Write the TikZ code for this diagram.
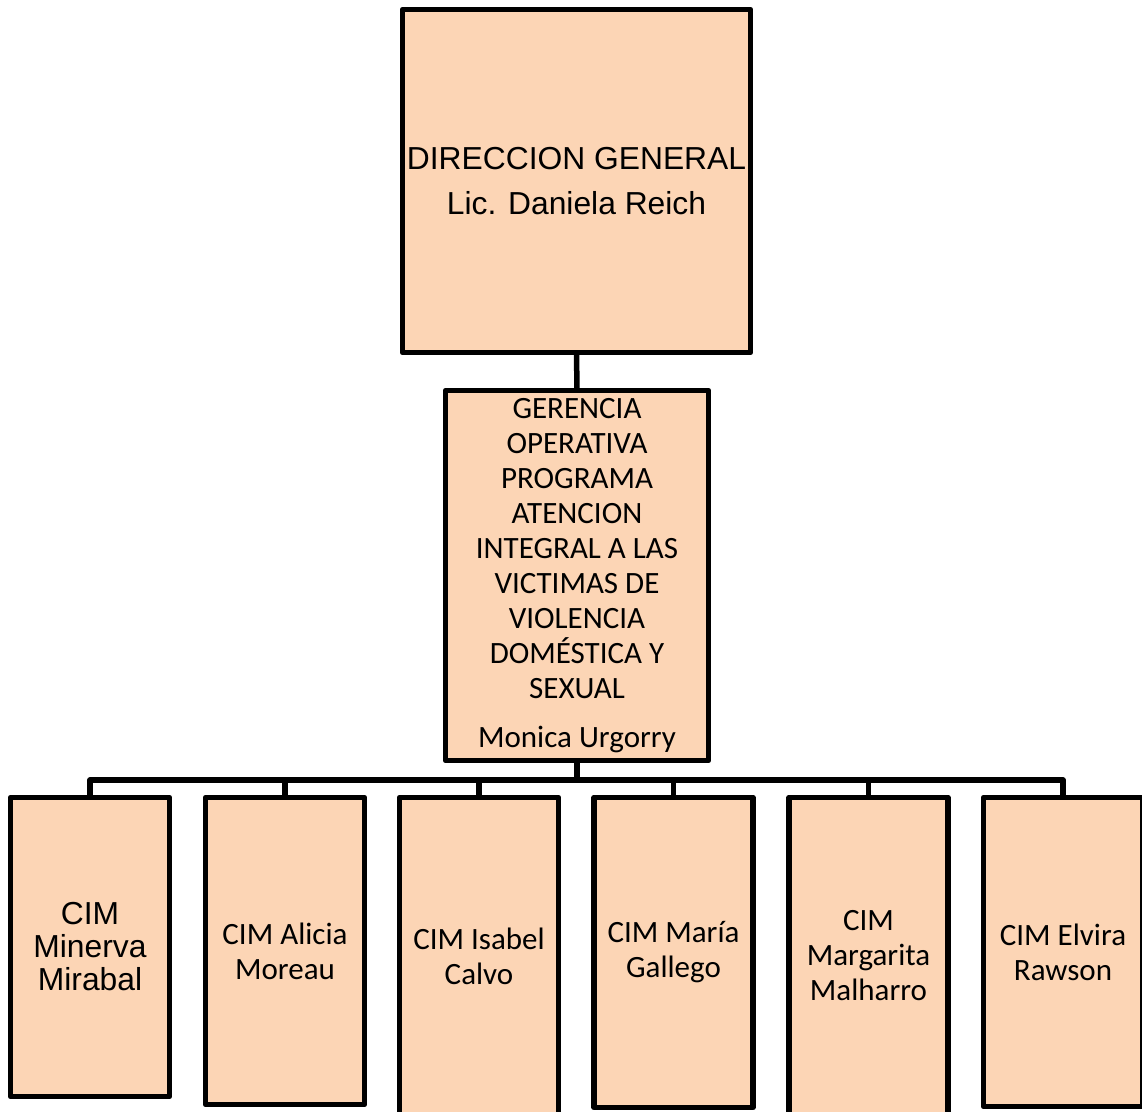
\documentclass[tikz,border=0pt]{standalone}
\usepackage{fontspec}
\setmainfont{Carlito}
\newfontfamily\arialfont{Liberation Sans}
\definecolor{peach}{HTML}{FCD5B5}
\tikzset{
  orgbox/.style={draw=black, line width=5.5pt, fill=peach, line join=round,
    inner sep=0pt, outer sep=0pt, align=center, text=black},
  cimbox/.style={orgbox, anchor=north, minimum width=159pt,
    font=\fontsize{31}{35}\selectfont},
  link/.style={line width=5.5pt, draw=black, line join=round}
}
\begin{document}
\begin{tikzpicture}[x=1pt,y=-1pt]
\useasboundingbox (0,0) rectangle (1142,1111);
\node[orgbox, minimum width=348pt, minimum height=343pt,
  font=\arialfont\fontsize{31.8}{45}\selectfont] (dg) at (576.5,181)
  {DIRECCION GENERAL\\Lic. Daniela Reich};
\node[orgbox, minimum width=263pt, minimum height=370pt,
  font=\fontsize{31}{35}\selectfont] (go) at (577,575.5)
  {GERENCIA\\OPERATIVA\\PROGRAMA\\ATENCION\\INTEGRAL A LAS\\VICTIMAS DE\\VIOLENCIA\\DOMÉSTICA Y\\SEXUAL\\[14pt]Monica Urgorry};
\coordinate (bus) at (577,780);
\node[cimbox, minimum height=299pt, font=\arialfont\fontsize{31.8}{33}\selectfont] (c1) at (90,797.5) {CIM\\Minerva\\Mirabal};
\node[cimbox, minimum height=307pt] (c2) at (285,797.5) {CIM Alicia\\Moreau};
\node[cimbox, minimum height=317pt] (c3) at (479,797.5) {CIM Isabel\\Calvo};
\node[cimbox, minimum height=310pt] (c4) at (673.5,797.5) {CIM María\\Gallego};
\node[cimbox, minimum height=317pt] (c5) at (868.5,797.5) {CIM\\Margarita\\Malharro};
\node[cimbox, minimum height=309pt] (c6) at (1063,797.5) {CIM Elvira\\Rawson};
\draw[link] (dg.south) -- (go.north);
\draw[link] (go.south) -- (bus);
\draw[link] (c1.north) |- (bus) -| (c6.north);
\foreach \c in {c2,c3,c4,c5} \draw[link] (\c.north |- bus) -- (\c.north);
\end{tikzpicture}
\end{document}
